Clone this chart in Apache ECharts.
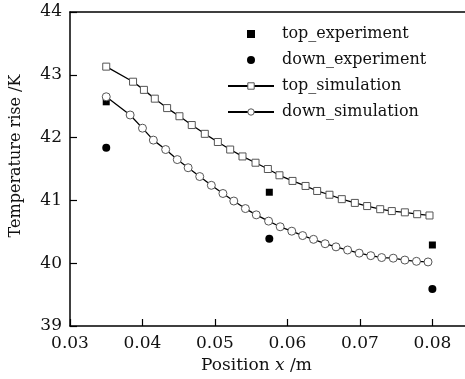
<!DOCTYPE html>
<html>
<head>
<meta charset="utf-8">
<script src="https://cdn.jsdelivr.net/npm/echarts@6/dist/echarts.min.js"></script>
<style>
    html, body { margin: 0; padding: 0; background: #fff; }
    #mainChart { width: 465px; height: 379px; }
</style>
</head>
<body>
<div id="mainChart"></div>
<script>
// values
var seriesNames = ['top_experiment', 'down_experiment', 'top_simulation', 'down_simulation'];

var expX = [0.035, 0.0575, 0.08];
var topExpY = [42.57, 41.13, 40.29];
var downExpY = [41.84, 40.39, 39.59];

var topSimX = [0.035, 0.0387, 0.0402, 0.0417, 0.0434, 0.0451, 0.0468, 0.0486, 0.0504, 0.0521,
    0.0538, 0.0556, 0.0573, 0.0589, 0.0607, 0.0625, 0.0641, 0.0658, 0.0675, 0.0693,
    0.0710, 0.0728, 0.0744, 0.0762, 0.0779, 0.0796];
var topSimY = [43.13, 42.89, 42.76, 42.62, 42.47, 42.34, 42.20, 42.06, 41.93, 41.81,
    41.70, 41.60, 41.50, 41.40, 41.31, 41.23, 41.15, 41.09, 41.02, 40.96,
    40.91, 40.86, 40.83, 40.81, 40.78, 40.76];

var downSimX = [0.0350, 0.0383, 0.0400, 0.0415, 0.0432, 0.0448, 0.0463, 0.0479, 0.0495, 0.0511,
    0.0526, 0.0542, 0.0557, 0.0574, 0.0590, 0.0606, 0.0621, 0.0636, 0.0652, 0.0667,
    0.0683, 0.0699, 0.0715, 0.0730, 0.0746, 0.0762, 0.0778, 0.0794];
var downSimY = [42.65, 42.36, 42.15, 41.96, 41.81, 41.65, 41.52, 41.38, 41.24, 41.11,
    40.99, 40.87, 40.77, 40.67, 40.58, 40.51, 40.44, 40.38, 40.31, 40.26,
    40.21, 40.16, 40.12, 40.09, 40.08, 40.05, 40.03, 40.02];

var pairs = (xs, ys) => xs.map((x, i) => [x, ys[i]]);
var font = 'DejaVu Serif';

var myChart = echarts.init(document.getElementById('mainChart'), null, { renderer: 'canvas' });

var axisLine = { show: true, lineStyle: { color: '#000', width: 1.5 } };
var openMarker = { color: '#fff', borderColor: '#555', borderWidth: 1 };

var option = {
    animation: false,
    backgroundColor: '#fff',
    textStyle: { fontFamily: font, color: '#111' },
    grid: {
        left: 66,
        top: 12,
        right: 0,
        bottom: 53
    },
    legend: {
        orient: 'vertical',
        left: 222,
        top: 21,
        itemWidth: 46,
        itemHeight: 8,
        itemGap: 10,
        selectedMode: false,
        textStyle: { fontFamily: font, fontSize: 16, lineHeight: 16, color: '#111', padding: [0, 0, 0, 3] },
        data: [
            { name: seriesNames[0], icon: 'path://M0,0H1V1H0Z' },
            { name: seriesNames[1], icon: 'circle' },
            { name: seriesNames[2], itemStyle: openMarker },
            { name: seriesNames[3], itemStyle: openMarker }
        ]
    },
    xAxis: [
        {
            type: 'value',
            min: 0.03,
            max: 0.0845,
            interval: 0.01,
            name: '{a|Position }{i|x}{a| /m}',
            nameLocation: 'middle',
            nameGap: 30,
            nameTextStyle: {
                padding: [0, 22, 0, 0],
                rich: {
                    a: { fontFamily: font, fontSize: 17, color: '#111' },
                    i: { fontFamily: font, fontSize: 17, fontStyle: 'italic', color: '#111' }
                }
            },
            axisLine: axisLine,
            axisTick: { show: true, inside: true, length: 7, lineStyle: { color: '#000', width: 1.2 } },
            axisLabel: {
                fontFamily: font, fontSize: 17, color: '#111', margin: 9,
                showMaxLabel: false,
                formatter: v => v.toFixed(2)
            },
            splitLine: { show: false }
        },
        {
            type: 'value',
            position: 'top',
            min: 0.03,
            max: 0.0845,
            axisLine: axisLine,
            axisTick: { show: false },
            axisLabel: { show: false },
            splitLine: { show: false }
        }
    ],
    yAxis: {
        type: 'value',
        min: 39,
        max: 44,
        interval: 1,
        name: 'Temperature rise /K',
        nameLocation: 'middle',
        nameGap: 46,
        nameTextStyle: { fontFamily: font, fontSize: 16, color: '#111', padding: [0, 0, 0, 26] },
        axisLine: axisLine,
        axisTick: { show: true, inside: true, length: 7, lineStyle: { color: '#000', width: 1.2 } },
        axisLabel: { fontFamily: font, fontSize: 17, color: '#111', margin: 8 },
        splitLine: { show: false }
    },
    series: [
        {
            name: seriesNames[0],
            type: 'scatter',
            symbol: 'rect',
            symbolSize: 7,
            itemStyle: { color: '#000', opacity: 1 },
            data: pairs(expX, topExpY)
        },
        {
            name: seriesNames[1],
            type: 'scatter',
            symbol: 'circle',
            symbolSize: 8,
            itemStyle: { color: '#000', opacity: 1 },
            data: pairs(expX, downExpY)
        },
        {
            name: seriesNames[2],
            type: 'line',
            symbol: 'rect',
            symbolSize: 7,
            showAllSymbol: true,
            lineStyle: { color: '#000', width: 1.3 },
            itemStyle: openMarker,
            data: pairs(topSimX, topSimY)
        },
        {
            name: seriesNames[3],
            type: 'line',
            symbol: 'circle',
            symbolSize: 8,
            showAllSymbol: true,
            lineStyle: { color: '#000', width: 1.3 },
            itemStyle: openMarker,
            data: pairs(downSimX, downSimY)
        }
    ]
};

myChart.setOption(option);
</script>
</body>
</html>
